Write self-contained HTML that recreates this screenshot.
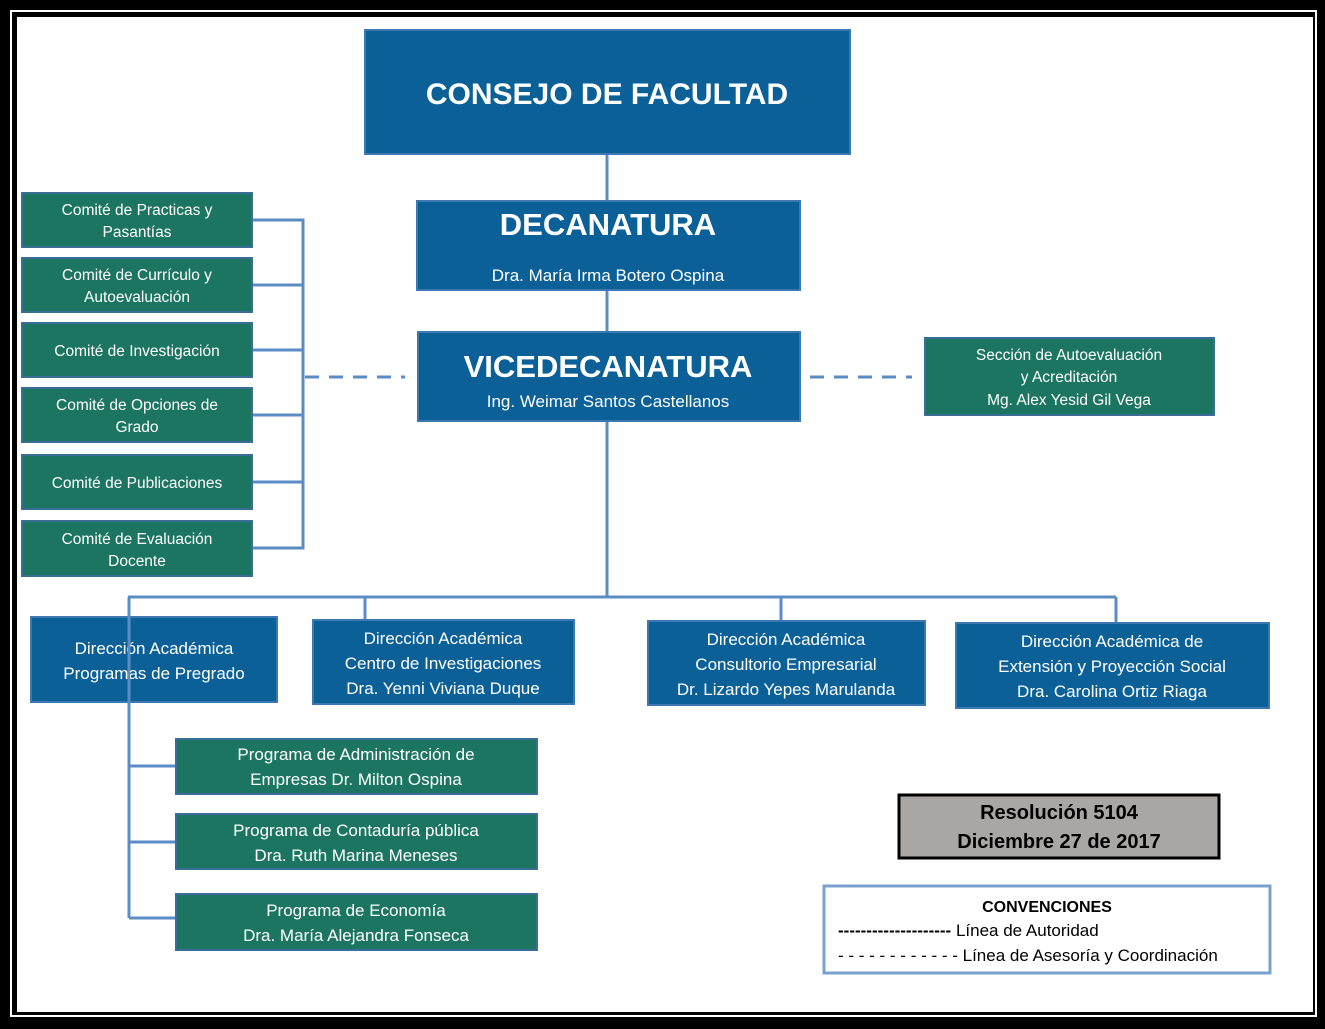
<!DOCTYPE html>
<html><head><meta charset="utf-8"><style>
html,body{margin:0;padding:0;background:#000;}
svg{display:block;}
text{font-family:"Liberation Sans",sans-serif;fill:#fff;text-anchor:middle;}
</style></head><body>
<svg width="1325" height="1029" viewBox="0 0 1325 1029" xmlns="http://www.w3.org/2000/svg">
<rect x="0" y="0" width="1325" height="1029" fill="#000"/>
<rect x="11" y="11" width="1305" height="1005" fill="none" stroke="#fff" stroke-width="2"/>
<rect x="17" y="17" width="1296" height="995" fill="#fff"/>
<g stroke="#5b8cc4" stroke-width="3" fill="none">
<line x1="607" y1="154" x2="607" y2="597"/>
<line x1="128" y1="597" x2="1116" y2="597"/>
<line x1="365" y1="597" x2="365" y2="622"/>
<line x1="781" y1="597" x2="781" y2="624"/>
<line x1="1116" y1="597" x2="1116" y2="626"/>
<polyline points="252,220 303,220 303,548 252,548"/>
<line x1="252" y1="285" x2="303" y2="285"/>
<line x1="252" y1="350" x2="303" y2="350"/>
<line x1="252" y1="415" x2="303" y2="415"/>
<line x1="252" y1="482" x2="303" y2="482"/>
<line x1="305" y1="377" x2="405" y2="377" stroke-dasharray="14,10"/>
<line x1="810" y1="377" x2="912" y2="377" stroke-dasharray="14,10"/>
<line x1="176" y1="766" x2="129" y2="766"/>
<line x1="176" y1="842" x2="129" y2="842"/>
<line x1="176" y1="918" x2="129" y2="918"/>
</g>
<g fill="#0a6097" stroke="#3d78b0" stroke-width="2">
<rect x="365" y="30" width="485" height="124"/>
<rect x="417" y="201" width="383" height="89"/>
<rect x="418" y="332" width="382" height="89"/>
<rect x="31" y="617" width="246" height="85"/>
<rect x="313" y="620" width="261" height="84"/>
<rect x="648" y="621" width="277" height="84"/>
<rect x="956" y="623" width="313" height="85"/>
</g>
<g fill="#1b7560" stroke="#3a6e96" stroke-width="2">
<rect x="22" y="193" width="230" height="54"/>
<rect x="22" y="258" width="230" height="54"/>
<rect x="22" y="323" width="230" height="54"/>
<rect x="22" y="388" width="230" height="54"/>
<rect x="22" y="455" width="230" height="54"/>
<rect x="22" y="521" width="230" height="55"/>
<rect x="925" y="338" width="289" height="77"/>
<rect x="176" y="739" width="361" height="55"/>
<rect x="176" y="814" width="361" height="55"/>
<rect x="176" y="894" width="361" height="56"/>
</g>
<line x1="129" y1="597" x2="129" y2="918" stroke="#5b8cc4" stroke-width="3"/>
<g font-weight="bold">
<text x="607" y="104" font-size="30">CONSEJO DE FACULTAD</text>
<text x="608" y="235" font-size="31">DECANATURA</text>
<text x="608" y="377" font-size="31">VICEDECANATURA</text>
</g>
<g font-size="17">
<text x="608" y="281">Dra. María Irma Botero Ospina</text>
<text x="608" y="407">Ing. Weimar Santos Castellanos</text>
</g>
<g font-size="15.5">
<text x="137" y="215">Comité de Practicas y</text><text x="137" y="237">Pasantías</text>
<text x="137" y="280">Comité de Currículo y</text><text x="137" y="302">Autoevaluación</text>
<text x="137" y="356">Comité de Investigación</text>
<text x="137" y="410">Comité de Opciones de</text><text x="137" y="432">Grado</text>
<text x="137" y="488">Comité de Publicaciones</text>
<text x="137" y="544">Comité de Evaluación</text><text x="137" y="566">Docente</text>
<text x="1069" y="360">Sección de Autoevaluación</text>
<text x="1069" y="382">y Acreditación</text>
<text x="1069" y="405">Mg. Alex Yesid Gil Vega</text>
</g>
<g font-size="17">
<text x="154" y="654">Dirección Académica</text>
<text x="154" y="679">Programas de Pregrado</text>
<text x="443" y="644">Dirección Académica</text>
<text x="443" y="669">Centro de Investigaciones</text>
<text x="443" y="694">Dra. Yenni Viviana Duque</text>
<text x="786" y="645">Dirección Académica</text>
<text x="786" y="670">Consultorio Empresarial</text>
<text x="786" y="695">Dr. Lizardo Yepes Marulanda</text>
<text x="1112" y="647">Dirección Académica de</text>
<text x="1112" y="672">Extensión y Proyección Social</text>
<text x="1112" y="697">Dra. Carolina Ortiz Riaga</text>
<text x="356" y="760">Programa de Administración de</text>
<text x="356" y="785">Empresas Dr. Milton Ospina</text>
<text x="356" y="836">Programa de Contaduría pública</text>
<text x="356" y="861">Dra. Ruth Marina Meneses</text>
<text x="356" y="916">Programa de Economía</text>
<text x="356" y="941">Dra. María Alejandra Fonseca</text>
</g>
<line x1="129" y1="617" x2="129" y2="702" stroke="#5b8cc4" stroke-width="2"/>
<rect x="899" y="795" width="320" height="63" fill="#a9a6a6" stroke="#000" stroke-width="3"/>
<text x="1059" y="819" font-size="20" font-weight="bold" style="fill:#000">Resolución 5104</text>
<text x="1059" y="848" font-size="20" font-weight="bold" style="fill:#000">Diciembre 27 de 2017</text>
<rect x="824" y="886" width="446" height="87" fill="#fff" stroke="#7aa0cc" stroke-width="3"/>
<text x="1047" y="912" font-size="16" font-weight="bold" style="fill:#000">CONVENCIONES</text>
<text x="838" y="936" font-size="17" style="fill:#000;text-anchor:start"><tspan font-weight="bold">--------------------</tspan> Línea de Autoridad</text>
<text x="838" y="961" font-size="17" style="fill:#000;text-anchor:start">- - - - - - - - - - - - Línea de  Asesoría y Coordinación</text>
</svg>
</body></html>
